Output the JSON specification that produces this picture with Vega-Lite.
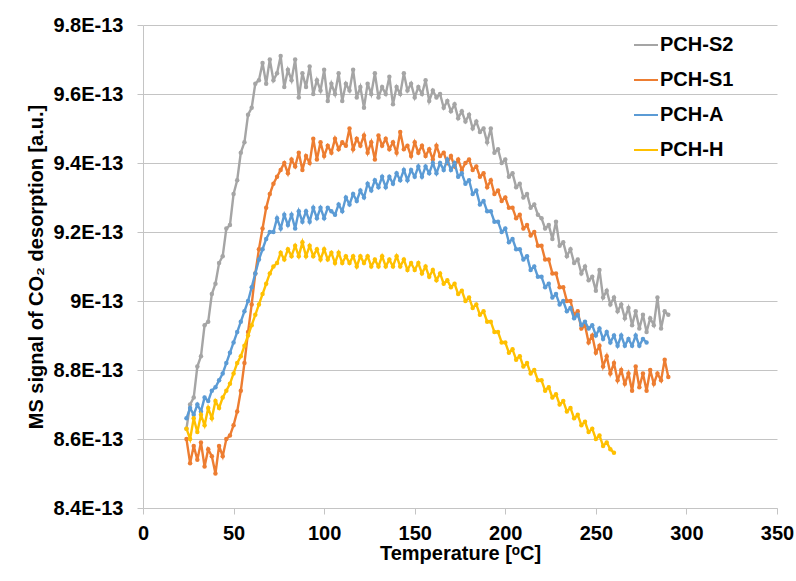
{
  "$schema": "https://vega.github.io/schema/vega-lite/v6.json",
  "width": 634,
  "height": 483,
  "autosize": {"type": "none"},
  "padding": {"left": 143, "top": 25, "right": 19, "bottom": 73},
  "background": "white",
  "config": {
    "font": "Liberation Sans",
    "view": {"stroke": null},
    "axis": {
      "labelFont": "Liberation Sans",
      "labelFontSize": 20,
      "labelFontWeight": "bold",
      "labelColor": "#000000",
      "titleFont": "Liberation Sans",
      "titleFontSize": 20,
      "titleFontWeight": "bold",
      "titleColor": "#000000",
      "domainColor": "#c4c4c4",
      "tickColor": "#c4c4c4",
      "gridColor": "#c4c4c4",
      "domainWidth": 1,
      "tickWidth": 1,
      "gridWidth": 1
    },
    "legend": {
      "labelFont": "Liberation Sans",
      "labelFontSize": 20,
      "labelFontWeight": "bold",
      "labelColor": "#000000"
    }
  },
  "datasets": {
    "S2": [
      {"t":24,"v":8.63},{"t":26,"v":8.70},{"t":28,"v":8.72},{"t":30,"v":8.81},{"t":32,"v":8.84},{"t":34,"v":8.93},{"t":36,"v":8.94},{"t":38,"v":9.02},{"t":40,"v":9.05},{"t":42,"v":9.11},{"t":44,"v":9.13},{"t":46,"v":9.21},{"t":48,"v":9.22},{"t":50,"v":9.31},{"t":52,"v":9.35},{"t":54,"v":9.43},{"t":56,"v":9.46},{"t":58,"v":9.54},{"t":60,"v":9.56},{"t":62,"v":9.63},{"t":64,"v":9.64},{"t":66,"v":9.69},{"t":68,"v":9.63},{"t":70,"v":9.70},{"t":72,"v":9.64},{"t":74,"v":9.66},{"t":76,"v":9.71},{"t":78,"v":9.62},{"t":80,"v":9.67},{"t":82,"v":9.64},{"t":84,"v":9.70},{"t":86,"v":9.59},{"t":88,"v":9.66},{"t":90,"v":9.62},{"t":92,"v":9.68},{"t":94,"v":9.60},{"t":96,"v":9.64},{"t":98,"v":9.61},{"t":100,"v":9.67},{"t":102,"v":9.58},{"t":104,"v":9.63},{"t":106,"v":9.60},{"t":108,"v":9.66},{"t":110,"v":9.58},{"t":112,"v":9.63},{"t":114,"v":9.61},{"t":116,"v":9.67},{"t":118,"v":9.59},{"t":120,"v":9.62},{"t":122,"v":9.56},{"t":124,"v":9.63},{"t":126,"v":9.60},{"t":128,"v":9.66},{"t":130,"v":9.59},{"t":132,"v":9.62},{"t":134,"v":9.60},{"t":136,"v":9.65},{"t":138,"v":9.57},{"t":140,"v":9.62},{"t":142,"v":9.60},{"t":144,"v":9.66},{"t":146,"v":9.61},{"t":148,"v":9.63},{"t":150,"v":9.59},{"t":152,"v":9.62},{"t":154,"v":9.60},{"t":156,"v":9.64},{"t":158,"v":9.58},{"t":160,"v":9.61},{"t":162,"v":9.59},{"t":164,"v":9.60},{"t":166,"v":9.56},{"t":168,"v":9.58},{"t":170,"v":9.55},{"t":172,"v":9.57},{"t":174,"v":9.53},{"t":176,"v":9.55},{"t":178,"v":9.52},{"t":180,"v":9.54},{"t":182,"v":9.50},{"t":184,"v":9.52},{"t":186,"v":9.49},{"t":188,"v":9.50},{"t":190,"v":9.46},{"t":192,"v":9.50},{"t":194,"v":9.43},{"t":196,"v":9.44},{"t":198,"v":9.40},{"t":200,"v":9.41},{"t":202,"v":9.36},{"t":204,"v":9.37},{"t":206,"v":9.33},{"t":208,"v":9.34},{"t":210,"v":9.30},{"t":212,"v":9.31},{"t":214,"v":9.27},{"t":216,"v":9.28},{"t":218,"v":9.25},{"t":220,"v":9.24},{"t":222,"v":9.21},{"t":224,"v":9.22},{"t":226,"v":9.18},{"t":228,"v":9.23},{"t":230,"v":9.16},{"t":232,"v":9.17},{"t":234,"v":9.13},{"t":236,"v":9.15},{"t":238,"v":9.11},{"t":240,"v":9.12},{"t":242,"v":9.08},{"t":244,"v":9.10},{"t":246,"v":9.06},{"t":248,"v":9.07},{"t":250,"v":9.03},{"t":252,"v":9.09},{"t":254,"v":9.01},{"t":256,"v":9.03},{"t":258,"v":8.99},{"t":260,"v":9.01},{"t":262,"v":8.97},{"t":264,"v":8.99},{"t":266,"v":8.95},{"t":268,"v":8.98},{"t":270,"v":8.93},{"t":272,"v":8.97},{"t":274,"v":8.92},{"t":276,"v":8.96},{"t":278,"v":8.91},{"t":280,"v":8.95},{"t":282,"v":8.93},{"t":284,"v":9.01},{"t":286,"v":8.92},{"t":288,"v":8.97},{"t":290,"v":8.96}
    ],
    "S1": [
      {"t":24,"v":8.60},{"t":26,"v":8.53},{"t":28,"v":8.58},{"t":30,"v":8.54},{"t":32,"v":8.59},{"t":34,"v":8.52},{"t":36,"v":8.57},{"t":38,"v":8.55},{"t":40,"v":8.50},{"t":42,"v":8.58},{"t":44,"v":8.55},{"t":46,"v":8.60},{"t":48,"v":8.61},{"t":50,"v":8.64},{"t":52,"v":8.68},{"t":54,"v":8.74},{"t":56,"v":8.82},{"t":58,"v":8.91},{"t":60,"v":8.99},{"t":62,"v":9.08},{"t":64,"v":9.15},{"t":66,"v":9.21},{"t":68,"v":9.27},{"t":70,"v":9.31},{"t":72,"v":9.34},{"t":74,"v":9.36},{"t":76,"v":9.38},{"t":78,"v":9.40},{"t":80,"v":9.37},{"t":82,"v":9.41},{"t":84,"v":9.39},{"t":86,"v":9.43},{"t":88,"v":9.38},{"t":90,"v":9.42},{"t":92,"v":9.40},{"t":94,"v":9.47},{"t":96,"v":9.41},{"t":98,"v":9.46},{"t":100,"v":9.42},{"t":102,"v":9.45},{"t":104,"v":9.43},{"t":106,"v":9.47},{"t":108,"v":9.44},{"t":110,"v":9.46},{"t":112,"v":9.45},{"t":114,"v":9.50},{"t":116,"v":9.44},{"t":118,"v":9.47},{"t":120,"v":9.45},{"t":122,"v":9.48},{"t":124,"v":9.43},{"t":126,"v":9.46},{"t":128,"v":9.41},{"t":130,"v":9.48},{"t":132,"v":9.45},{"t":134,"v":9.47},{"t":136,"v":9.44},{"t":138,"v":9.46},{"t":140,"v":9.43},{"t":142,"v":9.49},{"t":144,"v":9.44},{"t":146,"v":9.45},{"t":148,"v":9.42},{"t":150,"v":9.46},{"t":152,"v":9.43},{"t":154,"v":9.45},{"t":156,"v":9.42},{"t":158,"v":9.44},{"t":160,"v":9.41},{"t":162,"v":9.45},{"t":164,"v":9.42},{"t":166,"v":9.43},{"t":168,"v":9.40},{"t":170,"v":9.42},{"t":172,"v":9.39},{"t":174,"v":9.41},{"t":176,"v":9.38},{"t":178,"v":9.40},{"t":180,"v":9.41},{"t":182,"v":9.38},{"t":184,"v":9.39},{"t":186,"v":9.36},{"t":188,"v":9.37},{"t":190,"v":9.33},{"t":192,"v":9.35},{"t":194,"v":9.31},{"t":196,"v":9.32},{"t":198,"v":9.29},{"t":200,"v":9.30},{"t":202,"v":9.27},{"t":204,"v":9.27},{"t":206,"v":9.24},{"t":208,"v":9.25},{"t":210,"v":9.21},{"t":212,"v":9.22},{"t":214,"v":9.19},{"t":216,"v":9.20},{"t":218,"v":9.16},{"t":220,"v":9.16},{"t":222,"v":9.12},{"t":224,"v":9.12},{"t":226,"v":9.08},{"t":228,"v":9.08},{"t":230,"v":9.04},{"t":232,"v":9.04},{"t":234,"v":9.00},{"t":236,"v":9.00},{"t":238,"v":8.96},{"t":240,"v":8.97},{"t":242,"v":8.92},{"t":244,"v":8.93},{"t":246,"v":8.88},{"t":248,"v":8.90},{"t":250,"v":8.85},{"t":252,"v":8.87},{"t":254,"v":8.81},{"t":256,"v":8.84},{"t":258,"v":8.79},{"t":260,"v":8.82},{"t":262,"v":8.77},{"t":264,"v":8.80},{"t":266,"v":8.76},{"t":268,"v":8.79},{"t":270,"v":8.74},{"t":272,"v":8.81},{"t":274,"v":8.75},{"t":276,"v":8.79},{"t":278,"v":8.74},{"t":280,"v":8.80},{"t":282,"v":8.76},{"t":284,"v":8.79},{"t":286,"v":8.77},{"t":288,"v":8.83},{"t":290,"v":8.78}
    ],
    "A": [
      {"t":24,"v":8.66},{"t":26,"v":8.69},{"t":28,"v":8.67},{"t":30,"v":8.70},{"t":32,"v":8.68},{"t":34,"v":8.72},{"t":36,"v":8.71},{"t":38,"v":8.74},{"t":40,"v":8.75},{"t":42,"v":8.77},{"t":44,"v":8.79},{"t":46,"v":8.82},{"t":48,"v":8.85},{"t":50,"v":8.88},{"t":52,"v":8.91},{"t":54,"v":8.94},{"t":56,"v":8.97},{"t":58,"v":9.00},{"t":60,"v":9.04},{"t":62,"v":9.08},{"t":64,"v":9.12},{"t":66,"v":9.15},{"t":68,"v":9.18},{"t":70,"v":9.20},{"t":72,"v":9.20},{"t":74,"v":9.24},{"t":76,"v":9.21},{"t":78,"v":9.25},{"t":80,"v":9.22},{"t":82,"v":9.25},{"t":84,"v":9.21},{"t":86,"v":9.26},{"t":88,"v":9.23},{"t":90,"v":9.26},{"t":92,"v":9.23},{"t":94,"v":9.27},{"t":96,"v":9.24},{"t":98,"v":9.27},{"t":100,"v":9.24},{"t":102,"v":9.27},{"t":104,"v":9.26},{"t":106,"v":9.25},{"t":108,"v":9.28},{"t":110,"v":9.26},{"t":112,"v":9.30},{"t":114,"v":9.28},{"t":116,"v":9.31},{"t":118,"v":9.29},{"t":120,"v":9.32},{"t":122,"v":9.30},{"t":124,"v":9.34},{"t":126,"v":9.32},{"t":128,"v":9.35},{"t":130,"v":9.33},{"t":132,"v":9.36},{"t":134,"v":9.33},{"t":136,"v":9.36},{"t":138,"v":9.34},{"t":140,"v":9.37},{"t":142,"v":9.35},{"t":144,"v":9.38},{"t":146,"v":9.35},{"t":148,"v":9.38},{"t":150,"v":9.36},{"t":152,"v":9.39},{"t":154,"v":9.36},{"t":156,"v":9.39},{"t":158,"v":9.37},{"t":160,"v":9.40},{"t":162,"v":9.37},{"t":164,"v":9.40},{"t":166,"v":9.38},{"t":168,"v":9.41},{"t":170,"v":9.38},{"t":172,"v":9.40},{"t":174,"v":9.36},{"t":176,"v":9.37},{"t":178,"v":9.34},{"t":180,"v":9.35},{"t":182,"v":9.31},{"t":184,"v":9.32},{"t":186,"v":9.28},{"t":188,"v":9.29},{"t":190,"v":9.26},{"t":192,"v":9.26},{"t":194,"v":9.23},{"t":196,"v":9.23},{"t":198,"v":9.20},{"t":200,"v":9.21},{"t":202,"v":9.17},{"t":204,"v":9.18},{"t":206,"v":9.15},{"t":208,"v":9.15},{"t":210,"v":9.12},{"t":212,"v":9.13},{"t":214,"v":9.09},{"t":216,"v":9.10},{"t":218,"v":9.07},{"t":220,"v":9.07},{"t":222,"v":9.04},{"t":224,"v":9.05},{"t":226,"v":9.01},{"t":228,"v":9.02},{"t":230,"v":8.99},{"t":232,"v":9.00},{"t":234,"v":8.97},{"t":236,"v":8.98},{"t":238,"v":8.95},{"t":240,"v":8.96},{"t":242,"v":8.93},{"t":244,"v":8.94},{"t":246,"v":8.92},{"t":248,"v":8.93},{"t":250,"v":8.90},{"t":252,"v":8.92},{"t":254,"v":8.89},{"t":256,"v":8.91},{"t":258,"v":8.88},{"t":260,"v":8.90},{"t":262,"v":8.87},{"t":264,"v":8.90},{"t":266,"v":8.87},{"t":268,"v":8.89},{"t":270,"v":8.87},{"t":272,"v":8.90},{"t":274,"v":8.87},{"t":276,"v":8.89},{"t":278,"v":8.88}
    ],
    "H": [
      {"t":24,"v":8.63},{"t":26,"v":8.60},{"t":28,"v":8.66},{"t":30,"v":8.62},{"t":32,"v":8.67},{"t":34,"v":8.64},{"t":36,"v":8.69},{"t":38,"v":8.66},{"t":40,"v":8.71},{"t":42,"v":8.69},{"t":44,"v":8.72},{"t":46,"v":8.74},{"t":48,"v":8.76},{"t":50,"v":8.79},{"t":52,"v":8.82},{"t":54,"v":8.84},{"t":56,"v":8.87},{"t":58,"v":8.90},{"t":60,"v":8.93},{"t":62,"v":8.96},{"t":64,"v":8.99},{"t":66,"v":9.02},{"t":68,"v":9.05},{"t":70,"v":9.08},{"t":72,"v":9.10},{"t":74,"v":9.11},{"t":76,"v":9.14},{"t":78,"v":9.12},{"t":80,"v":9.15},{"t":82,"v":9.13},{"t":84,"v":9.16},{"t":86,"v":9.13},{"t":88,"v":9.17},{"t":90,"v":9.13},{"t":92,"v":9.16},{"t":94,"v":9.13},{"t":96,"v":9.15},{"t":98,"v":9.12},{"t":100,"v":9.15},{"t":102,"v":9.12},{"t":104,"v":9.14},{"t":106,"v":9.11},{"t":108,"v":9.14},{"t":110,"v":9.11},{"t":112,"v":9.13},{"t":114,"v":9.11},{"t":116,"v":9.13},{"t":118,"v":9.10},{"t":120,"v":9.13},{"t":122,"v":9.11},{"t":124,"v":9.13},{"t":126,"v":9.10},{"t":128,"v":9.12},{"t":130,"v":9.10},{"t":132,"v":9.13},{"t":134,"v":9.10},{"t":136,"v":9.12},{"t":138,"v":9.10},{"t":140,"v":9.13},{"t":142,"v":9.10},{"t":144,"v":9.12},{"t":146,"v":9.09},{"t":148,"v":9.11},{"t":150,"v":9.09},{"t":152,"v":9.11},{"t":154,"v":9.08},{"t":156,"v":9.10},{"t":158,"v":9.07},{"t":160,"v":9.09},{"t":162,"v":9.06},{"t":164,"v":9.08},{"t":166,"v":9.05},{"t":168,"v":9.06},{"t":170,"v":9.04},{"t":172,"v":9.05},{"t":174,"v":9.02},{"t":176,"v":9.03},{"t":178,"v":9.00},{"t":180,"v":9.01},{"t":182,"v":8.98},{"t":184,"v":8.99},{"t":186,"v":8.96},{"t":188,"v":8.97},{"t":190,"v":8.94},{"t":192,"v":8.94},{"t":194,"v":8.91},{"t":196,"v":8.91},{"t":198,"v":8.88},{"t":200,"v":8.88},{"t":202,"v":8.85},{"t":204,"v":8.86},{"t":206,"v":8.83},{"t":208,"v":8.84},{"t":210,"v":8.81},{"t":212,"v":8.82},{"t":214,"v":8.79},{"t":216,"v":8.80},{"t":218,"v":8.77},{"t":220,"v":8.77},{"t":222,"v":8.74},{"t":224,"v":8.75},{"t":226,"v":8.72},{"t":228,"v":8.73},{"t":230,"v":8.70},{"t":232,"v":8.71},{"t":234,"v":8.68},{"t":236,"v":8.69},{"t":238,"v":8.66},{"t":240,"v":8.67},{"t":242,"v":8.64},{"t":244,"v":8.65},{"t":246,"v":8.62},{"t":248,"v":8.63},{"t":250,"v":8.60},{"t":252,"v":8.61},{"t":254,"v":8.58},{"t":256,"v":8.59},{"t":258,"v":8.57},{"t":260,"v":8.56}
    ]
  },
  "encoding": {
    "x": {
      "field": "t",
      "type": "quantitative",
      "scale": {"domain": [0, 350], "nice": false},
      "axis": {
        "values": [0, 50, 100, 150, 200, 250, 300, 350],
        "title": "Temperature [ᵒC]",
        "grid": false,
        "tickSize": 6,
        "labelPadding": 9,
        "titlePadding": 0,
        "labelFlush": false
      }
    },
    "y": {
      "field": "v",
      "type": "quantitative",
      "scale": {"domain": [8.4, 9.8], "nice": false, "zero": false},
      "axis": {
        "values": [8.4, 8.6, 8.8, 9.0, 9.2, 9.4, 9.6, 9.8],
        "labelExpr": "format(datum.value, '.1~f') + 'E-13'",
        "title": "MS signal of  CO₂ desorption [a.u.]",
        "grid": true,
        "tickSize": 6,
        "labelPadding": 14,
        "titlePadding": 6,
        "labelFlush": false
      }
    },
    "color": {
      "type": "nominal",
      "scale": {
        "domain": ["PCH-S2", "PCH-S1", "PCH-A", "PCH-H"],
        "range": ["#A5A5A5", "#ED7D31", "#5B9BD5", "#FFC000"]
      },
      "legend": {
        "title": null,
        "orient": "none",
        "legendX": 490,
        "legendY": 7,
        "symbolType": "stroke",
        "symbolSize": 576,
        "symbolStrokeWidth": 2,
        "rowPadding": 12,
        "labelOffset": 1,
        "padding": 0
      }
    }
  },
  "layer": [
    {"data": {"name": "S2"}, "mark": {"type": "line", "strokeWidth": 2.4, "point": {"filled": true, "size": 20}}, "encoding": {"color": {"datum": "PCH-S2"}}},
    {"data": {"name": "S1"}, "mark": {"type": "line", "strokeWidth": 2.4, "point": {"filled": true, "size": 20}}, "encoding": {"color": {"datum": "PCH-S1"}}},
    {"data": {"name": "A"}, "mark": {"type": "line", "strokeWidth": 2.4, "point": {"filled": true, "size": 20}}, "encoding": {"color": {"datum": "PCH-A"}}},
    {"data": {"name": "H"}, "mark": {"type": "line", "strokeWidth": 2.4, "point": {"filled": true, "size": 20}}, "encoding": {"color": {"datum": "PCH-H"}}}
  ]
}
